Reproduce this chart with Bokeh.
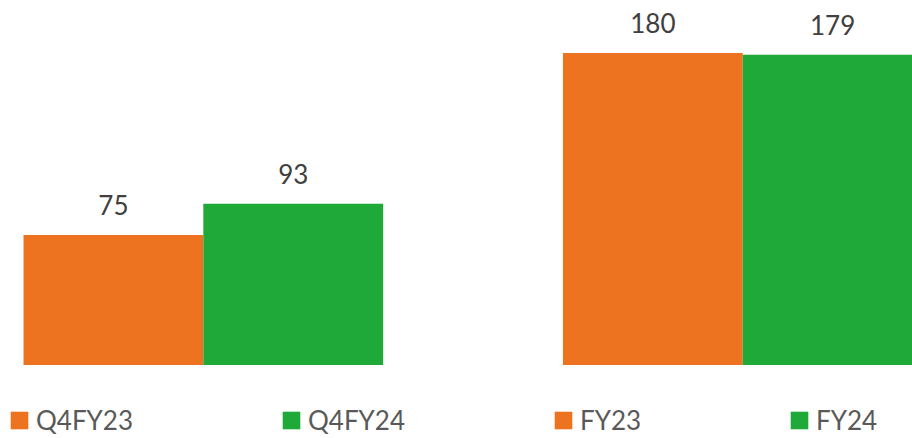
from bokeh.plotting import figure
from bokeh.models import ColumnDataSource, LabelSet, Range1d, Legend, LegendItem
from bokeh.core.properties import value
from bokeh.embed import file_html
from bokeh.resources import INLINE

# ---- data ----
groups = ["Quarter", "Year"]
series = ["Q4FY23", "Q4FY24", "FY23", "FY24"]
values = [75, 93, 180, 179]
label_texts = [str(v) for v in values]

ORANGE = "#EE7320"
GREEN = "#1EA938"
bar_colors = [ORANGE, GREEN, ORANGE, GREEN]

# bar positions: two bars per group, one empty slot between groups
xs = []
for gi in range(len(groups)):
    for bi in range(2):
        xs.append(gi * 3 + bi + 0.5)

src = ColumnDataSource(dict(x=xs, top=values, name=series, color=bar_colors, lab=label_texts))

p = figure(width=912, height=438,
           x_range=Range1d(-0.128, 4.944), y_range=Range1d(-42.4, 210.3),
           output_backend="svg", toolbar_location=None, min_border=0)
p.axis.visible = False
p.xgrid.visible = False
p.ygrid.visible = False
p.outline_line_color = None
p.background_fill_color = "white"
p.border_fill_color = "white"

r = p.vbar(x="x", top="top", bottom=0, width=1.0, source=src,
           fill_color="color", line_color=None)

labels = LabelSet(x="x", y="top", text="lab", source=src, y_offset=20,
                  text_align="center", text_baseline="alphabetic",
                  text_font=value("Lato"), text_font_size="26px", text_color="#404040")
p.add_layout(labels)

items = [LegendItem(label=series[i], renderers=[r], index=i) for i in range(len(series))]
legend = Legend(items=items, orientation="horizontal", location=(8, 2),
                glyph_width=22, glyph_height=22, label_standoff=6, spacing=147,
                padding=0, margin=0, border_line_color=None, background_fill_alpha=0,
                label_text_font="Lato", label_text_font_size="26px",
                label_text_color="#595959")
p.add_layout(legend, "center")

open("out.html", "w").write(file_html(p, INLINE))
